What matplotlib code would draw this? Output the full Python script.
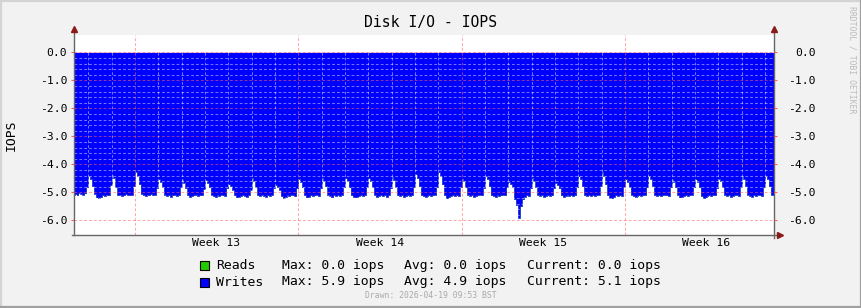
import numpy as np
import matplotlib
matplotlib.use('Agg')
import matplotlib.pyplot as plt
from matplotlib.patches import Rectangle
from matplotlib.lines import Line2D

plt.rcParams['font.family'] = 'DejaVu Sans Mono'
plt.rcParams['lines.scale_dashes'] = False

W, H = 862, 308

# --- data (writes, plotted negative; 2-hour steps from midnight, one row per day) ---
hours_per_step = 2
first_midnight = 14.6      # hours after graph start
writes_by_day = [
    [-5.05, -5.05, -5.05, -5.08, -5.10, -5.06, -5.10, -5.02, -5.05, -5.08, -5.04, -4.80],
    [-4.42, -4.52, -4.78, -5.05, -5.18, -5.20, -5.18, -5.10, -5.12, -5.08, -5.10, -4.75],
    [-4.39, -4.48, -4.80, -5.10, -5.08, -5.12, -5.10, -5.06, -5.10, -5.10, -5.08, -4.78],
    [-4.26, -4.40, -4.70, -5.05, -5.10, -5.12, -5.08, -5.10, -5.06, -5.10, -5.08, -4.85],
    [-4.54, -4.62, -4.80, -5.08, -5.12, -5.10, -5.15, -5.10, -5.08, -5.12, -5.10, -4.82],
    [-4.54, -4.65, -4.85, -5.10, -5.15, -5.12, -5.10, -5.08, -5.12, -5.10, -5.10, -4.88],
    [-4.57, -4.66, -4.82, -5.08, -5.12, -5.15, -5.10, -5.12, -5.08, -5.10, -5.12, -4.85],
    [-4.72, -4.78, -4.90, -5.10, -5.17, -5.15, -5.12, -5.10, -5.12, -5.15, -5.10, -4.90],
    [-4.48, -4.58, -4.82, -5.10, -5.12, -5.08, -5.12, -5.15, -5.10, -5.12, -5.08, -4.85],
    [-4.74, -4.80, -4.90, -5.12, -5.22, -5.15, -5.10, -5.12, -5.08, -5.10, -5.12, -4.85],
    [-4.52, -4.62, -4.82, -5.10, -5.18, -5.15, -5.10, -5.12, -5.10, -5.08, -5.12, -4.85],
    [-4.48, -4.58, -4.78, -5.08, -5.12, -5.18, -5.10, -5.12, -5.10, -5.12, -5.08, -4.82],
    [-4.50, -4.60, -4.82, -5.10, -5.15, -5.18, -5.15, -5.12, -5.10, -5.12, -5.10, -4.82],
    [-4.50, -4.60, -4.82, -5.08, -5.15, -5.12, -5.10, -5.12, -5.10, -5.15, -5.10, -4.85],
    [-4.45, -4.56, -4.82, -5.10, -5.12, -5.10, -5.15, -5.12, -5.10, -5.12, -5.10, -4.82],
    [-4.35, -4.48, -4.78, -5.10, -5.12, -5.15, -5.12, -5.10, -5.12, -5.10, -5.08, -4.80],
    [-4.28, -4.42, -4.72, -5.10, -5.22, -5.18, -5.12, -5.10, -5.12, -5.10, -5.12, -4.82],
    [-4.51, -4.60, -4.82, -5.08, -5.12, -5.10, -5.15, -5.12, -5.10, -5.08, -5.10, -4.85],
    [-4.40, -4.52, -4.78, -5.10, -5.12, -5.15, -5.10, -5.12, -5.10, -5.08, -5.10, -4.82],
    [-4.62, -4.70, -4.82, -5.25, -5.45, -5.90, -5.50, -5.25, -5.15, -5.10, -5.12, -4.85],
    [-4.48, -4.58, -4.82, -5.08, -5.12, -5.10, -5.15, -5.12, -5.10, -5.12, -5.10, -4.85],
    [-4.66, -4.74, -4.85, -5.10, -5.15, -5.12, -5.10, -5.12, -5.10, -5.12, -5.10, -4.82],
    [-4.42, -4.52, -4.78, -5.10, -5.12, -5.10, -5.12, -5.10, -5.12, -5.10, -5.08, -4.78],
    [-4.28, -4.42, -4.72, -5.10, -5.22, -5.20, -5.15, -5.10, -5.12, -5.10, -5.12, -4.82],
    [-4.54, -4.62, -4.82, -5.08, -5.12, -5.15, -5.12, -5.10, -5.12, -5.10, -5.08, -4.82],
    [-4.42, -4.52, -4.78, -5.10, -5.12, -5.10, -5.12, -5.10, -5.08, -5.10, -5.12, -4.82],
    [-4.54, -4.62, -4.82, -5.10, -5.18, -5.15, -5.12, -5.10, -5.12, -5.10, -5.08, -4.82],
    [-4.54, -4.62, -4.82, -5.12, -5.22, -5.18, -5.12, -5.10, -5.12, -5.10, -5.10, -4.85],
    [-4.51, -4.60, -4.82, -5.08, -5.12, -5.10, -5.15, -5.12, -5.10, -5.08, -5.12, -4.82],
    [-4.40, -4.52, -4.78, -5.08, -5.12, -5.15, -5.10, -5.12, -5.08, -5.10, -5.12, -4.82],
    [-4.42, -4.52, -4.78, -5.08, -5.10, -5.12, -5.10, -5.08, -5.10, -5.12, -5.10, -5.08],
]
y_ticks = [0, -1, -2, -3, -4, -5, -6]
week_labels = ['Week 13', 'Week 14', 'Week 15', 'Week 16']

legend_rows = [
    ('Reads',  '#22CC00', 'Max: 0.0 iops', 'Avg: 0.0 iops', 'Current: 0.0 iops'),
    ('Writes', '#0000FF', 'Max: 5.9 iops', 'Avg: 4.9 iops', 'Current: 5.1 iops'),
]

writes = np.array(writes_by_day).ravel()
t_start = first_midnight - 24
t = t_start + hours_per_step * np.arange(len(writes) + 1)
w = np.append(writes, writes[-1])


def px(x, y):
    return x / W, 1 - y / H


fig = plt.figure(figsize=(W / 100, H / 100), dpi=100, facecolor='#F2F2F2')
ax = fig.add_axes([74 / W, (H - 235) / H, 700 / W, 200 / H])
ax.set_facecolor('white')
ax.set_xlim(0, 720)
ax.set_ylim(-6.525, 0.62)
for s in ax.spines.values():
    s.set_visible(False)

# area + thin darker outline
ax.fill_between(t, w, 0, step='post', color='#0000FF', lw=0, zorder=1)
ax.step(t, w, where='post', color='#1A35C4', lw=0.6, zorder=2)

# grid
minor_kw = dict(color='white', alpha=0.45, lw=0.75, ls=(0, (2, 1.5)), zorder=3)
major_kw = dict(color='#FF5F5F', alpha=0.55, lw=0.75, ls=(0, (2, 1.5)), zorder=3)
for y in np.arange(-6.4, 0.61, 0.2):
    if abs(y - round(y)) > 0.05:
        ax.axhline(y, **minor_kw)
for y in y_ticks:
    ax.axhline(y, **major_kw)
week_starts = first_midnight + 48 + 168 * np.arange(4)
for d in first_midnight + 24 * np.arange(30):
    if np.min(np.abs(week_starts - d)) > 1:
        ax.axvline(d, **minor_kw)
for d in week_starts:
    ax.axvline(d, **major_kw)

# ticks
ax.set_yticks(y_ticks)
ax.set_yticklabels([f'{v:.1f}' for v in y_ticks])
ax.tick_params(axis='y', length=2, color='#FF5F5F', pad=3, labelsize=8.2)
ax.set_xticks(week_starts + 84)
ax.set_xticklabels(week_labels)
ax.tick_params(axis='x', length=0, pad=2.5, labelsize=8.2)

ax2 = ax.twinx()
ax2.set_ylim(ax.get_ylim())
for s in ax2.spines.values():
    s.set_visible(False)
ax2.set_yticks(y_ticks)
ax2.set_yticklabels([f'{v:.1f}' for v in y_ticks], ha='right')
ax2.tick_params(axis='y', length=2, color='#FF5F5F', pad=28.2, labelsize=8.2)

# axis lines with arrows
axc = '#666666'
arr = '#8B1A1A'
ax.plot([0, 0], [0, 1 + 4 / 200], color=axc, lw=1, transform=ax.transAxes, clip_on=False, zorder=5)
ax.plot([1, 1], [-3 / 200, 1 + 4 / 200], color=axc, lw=1, transform=ax.transAxes, clip_on=False, zorder=5)
ax.plot([-2 / 700, 1 + 4 / 700], [0, 0], color=axc, lw=1, transform=ax.transAxes, clip_on=False, zorder=5)
ax.plot([0, 1], [1 + 6 / 200] * 2, ls='none', marker='^', ms=4.5, color=arr,
        transform=ax.transAxes, clip_on=False, zorder=6)
ax.plot([1 + 6 / 700], [0], ls='none', marker='>', ms=4.5, color=arr,
        transform=ax.transAxes, clip_on=False, zorder=6)

# texts
fig.text(*px(431, 22), 'Disk I/O - IOPS', ha='center', va='center', fontsize=10.6)
fig.text(*px(11, 135), 'IOPS', rotation=90, ha='center', va='center', fontsize=9.4)
fig.text(*px(852, 60), 'RRDTOOL / TOBI OETIKER', rotation=270, ha='center', va='center',
         fontsize=5.9, color='#BBBBBB')
fig.text(*px(431, 296), 'Drawn: 2026-04-19 09:53 BST', ha='center', va='center',
         fontsize=5.9, color='#AAAAAA')

for i, (name, col, mx, avg, cur) in enumerate(legend_rows):
    yc = 265.5 + 16.5 * i
    x0, y0 = px(200, yc + 4.5)
    fig.add_artist(Rectangle((x0, y0), 9 / W, 9 / H, transform=fig.transFigure,
                             facecolor=col, edgecolor='black', lw=0.8))
    for xp, s in [(216, name), (281.7, mx), (404, avg), (526.7, cur)]:
        fig.text(*px(xp, yc), s, ha='left', va='center', fontsize=9.45)

# frame
for (x1, y1, x2, y2, c) in [(0, 1, W, 1, '#D4D4D4'), (1, 0, 1, H, '#D4D4D4'),
                             (W - 1, 0, W - 1, H, '#A0A0A0'), (0, H - 1, W, H - 1, '#A0A0A0')]:
    fig.add_artist(Line2D([x1 / W, x2 / W], [1 - y1 / H, 1 - y2 / H], color=c, lw=1.6,
                          transform=fig.transFigure))

fig.savefig('out.png', dpi=100, facecolor=fig.get_facecolor())
